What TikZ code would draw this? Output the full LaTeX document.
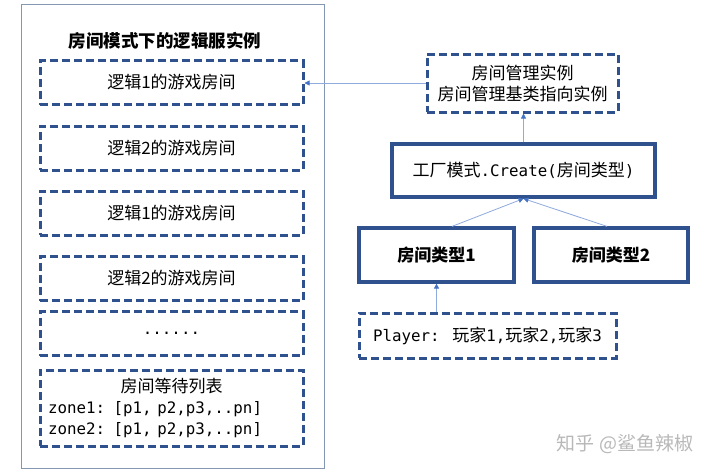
\documentclass[tikz,border=0pt]{standalone}
\usepackage{fontspec}
\setmainfont{Noto Sans CJK SC}
\newfontfamily\monofont[Scale=0.93]{DejaVu Sans Mono}
\usetikzlibrary{arrows.meta}
\definecolor{boxblue}{HTML}{2F528F}
\definecolor{linkblue}{HTML}{8FAADC}
\definecolor{tipblue}{HTML}{4472C4}
\definecolor{framegray}{HTML}{8497B0}
\tikzset{
  roombox/.style={draw=boxblue, line width=3pt, dash pattern=on 8pt off 4pt,
    minimum width=263pt, minimum height=44pt, inner sep=0pt},
  solidbox/.style={draw=boxblue, line width=3.2pt, inner sep=0pt},
  typebox/.style={solidbox, minimum width=155pt, minimum height=54pt,
    font=\bfseries\fontsize{17}{21}\selectfont},
  link/.style={draw=linkblue, line width=0.8pt,
    -{Triangle[width=5pt,length=5pt,color=tipblue]}},
}
\begin{document}
\begin{tikzpicture}[x=1pt,y=-1pt, every node/.style={font=\fontsize{17}{21}\selectfont}]
\useasboundingbox (0,0) rectangle (720,474);

% logic server frame
\draw[framegray, line width=1pt] (21,4) rectangle (324,468);
\node[font=\bfseries\fontsize{17.5}{20}\selectfont] (title) at (165,41) {房间模式下的逻辑服实例};

\node[roombox] (room1) at (171.5,82.5) {逻辑1的游戏房间};
\node[roombox] (room2) at (171.5,148) {逻辑2的游戏房间};
\node[roombox] (room3) at (171.5,213) {逻辑1的游戏房间};
\node[roombox] (room4) at (171.5,278.5) {逻辑2的游戏房间};
\node[roombox] (dots) at (171.5,333.5) {\monofont ......};
\node[roombox, minimum height=76pt, text width=247pt, align=left] (queue) at (171.5,408)
  {\makebox[\linewidth]{房间等待列表}\\{\monofont zone1: [p1, p2,p3,..pn]}\\{\monofont zone2: [p1, p2,p3,..pn]}};

% room manager side
\node[roombox, minimum width=191pt, minimum height=58pt, align=center] (manager) at (522.5,83)
  {房间管理实例\\房间管理基类指向实例};
\node[solidbox, minimum width=263pt, minimum height=53pt] (factory) at (523.5,170.5)
  {工厂模式{\monofont .Create(}房间类型{\monofont )}};
\node[typebox] (type1) at (436.5,255) {房间类型1};
\node[typebox, minimum width=154pt] (type2) at (611,255) {房间类型2};
\node[roombox, minimum width=257pt, minimum height=45pt] (player) at (487.5,335.5)
  {{\monofont Player: }玩家{\monofont 1,}玩家{\monofont 2,}玩家{\monofont 3}};

\draw[link] (manager.west) -- (manager.west -| room1.east);
\draw[link] (factory.north) -- (factory.north |- manager.south);
\draw[link] ([xshift=15.5pt]type1.north) -- (factory.south);
\draw[link] ([xshift=-4pt]type2.north) -- (factory.south);
\draw[link] (type1.south |- player.north) -- (type1.south);

\node[text=black!28, font=\fontsize{19}{22}\selectfont] (mark) at (625,444) {知乎 @鲨鱼辣椒};

\end{tikzpicture}
\end{document}
